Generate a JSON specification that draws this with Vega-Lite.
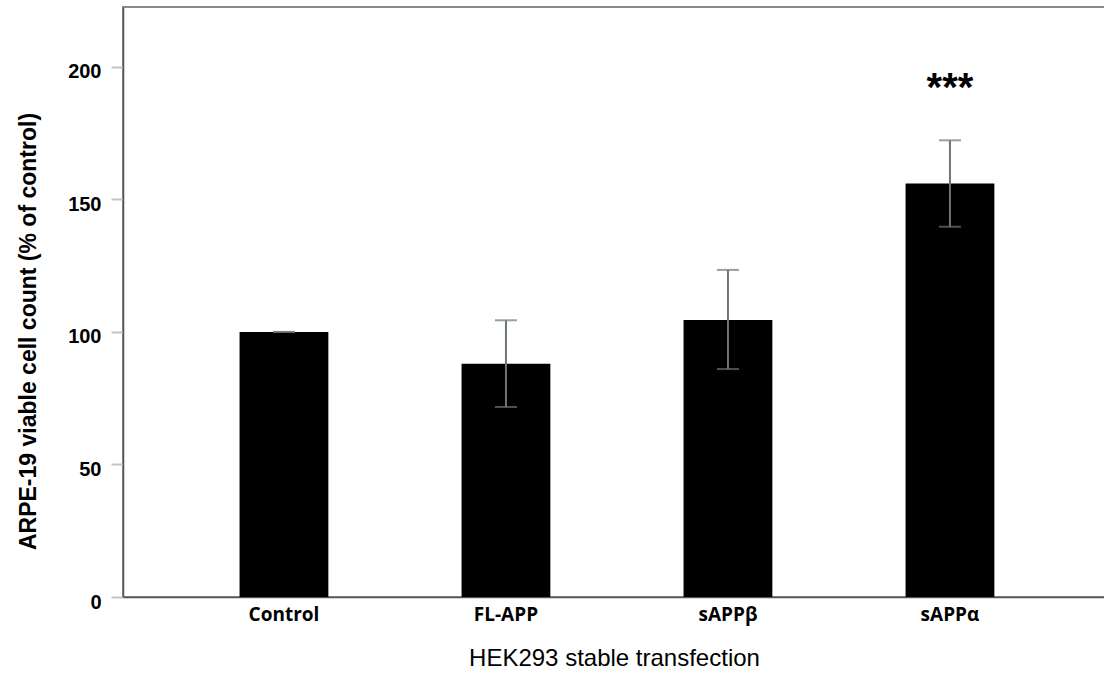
{
  "$schema": "https://vega.github.io/schema/vega-lite/v6.json",
  "autosize": {"type": "none"},
  "padding": {"left": 123, "top": 7, "right": 0, "bottom": 79},
  "width": 982,
  "height": 590,
  "background": "white",
  "config": {
    "view": {"stroke": "#8a8a8a", "strokeWidth": 2},
    "axis": {"grid": false}
  },
  "data": {
    "values": [
      {"group": "Control", "mean": 100, "lo": 100, "hi": 100, "sig": ""},
      {"group": "FL-APP", "mean": 88, "lo": 71.7, "hi": 104.4, "sig": ""},
      {"group": "sAPPβ", "mean": 104.5, "lo": 86, "hi": 123.4, "sig": ""},
      {"group": "sAPPα", "mean": 156, "lo": 139.7, "hi": 172.3, "sig": "***"}
    ]
  },
  "encoding": {
    "x": {
      "field": "group",
      "type": "nominal",
      "sort": null,
      "scale": {"paddingInner": 0.6, "paddingOuter": 0.5117, "align": 0.513},
      "axis": {
        "title": "HEK293 stable transfection",
        "titleFont": "Liberation Sans",
        "titleFontSize": 24,
        "titleFontWeight": "normal",
        "titleColor": "#000",
        "titleY": 61,
        "titleBaseline": "middle",
        "labelFont": "Open Sans",
        "labelFontSize": 19,
        "labelFontWeight": "bold",
        "labelColor": "#000",
        "labelAngle": 0,
        "labelPadding": 8,
        "ticks": false,
        "domainColor": "#555",
        "domainWidth": 1.5
      }
    }
  },
  "layer": [
    {
      "mark": {"type": "bar", "color": "#000"},
      "encoding": {
        "y": {
          "field": "mean",
          "type": "quantitative",
          "scale": {"domain": [0, 222.6], "nice": false},
          "axis": {
            "title": "ARPE-19 viable cell count (% of control)",
            "titleFont": "Liberation Sans",
            "titleFontSize": 23,
            "titleFontWeight": "bold",
            "titleColor": "#000",
            "titleAngle": -90,
            "titleX": -95,
            "titleY": 324,
            "titleBaseline": "middle",
            "values": [0, 50, 100, 150, 200],
            "labelFont": "Liberation Sans",
            "labelFontSize": 20,
            "labelFontWeight": "bold",
            "labelColor": "#000",
            "labelPadding": 10,
            "labelOffset": 5,
            "tickColor": "#c4c4c4",
            "tickWidth": 2,
            "tickSize": 12,
            "domainColor": "#555",
            "domainWidth": 1.5
          }
        }
      }
    },
    {
      "mark": {"type": "rule", "color": "#6b7774", "strokeWidth": 2},
      "encoding": {
        "y": {"field": "lo", "type": "quantitative"},
        "y2": {"field": "hi"}
      }
    },
    {
      "mark": {"type": "tick", "color": "#6b7774", "thickness": 2, "size": 22},
      "encoding": {"y": {"field": "lo", "type": "quantitative"}}
    },
    {
      "mark": {"type": "tick", "color": "#6b7774", "thickness": 2, "size": 22},
      "encoding": {"y": {"field": "hi", "type": "quantitative"}}
    },
    {
      "mark": {"type": "text", "font": "Liberation Sans", "fontSize": 40, "fontWeight": "bold", "baseline": "alphabetic", "color": "#000"},
      "encoding": {
        "y": {"datum": 187, "type": "quantitative"},
        "text": {"field": "sig"}
      }
    }
  ]
}
